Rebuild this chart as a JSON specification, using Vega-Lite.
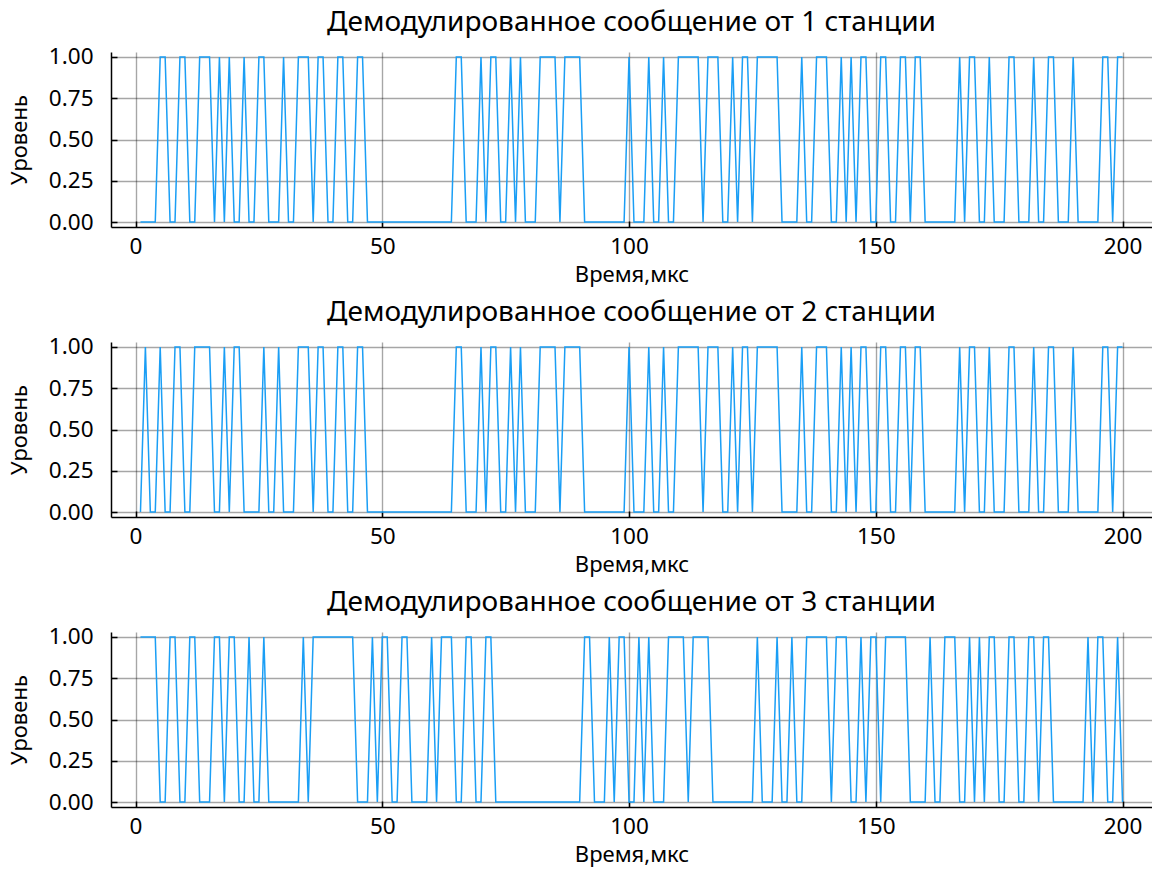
{
  "$schema": "https://vega.github.io/schema/vega-lite/v6.json",
  "background": "white",
  "padding": {"left": 8, "top": 8, "right": 0, "bottom": 12},
  "data": {"values": [
    {"t":1,"a":0,"b":0,"c":1},{"t":2,"a":0,"b":1,"c":1},{"t":3,"a":0,"b":0,"c":1},{"t":4,"a":0,"b":0,"c":1},{"t":5,"a":1,"b":1,"c":0},
    {"t":6,"a":1,"b":0,"c":0},{"t":7,"a":0,"b":0,"c":1},{"t":8,"a":0,"b":1,"c":1},{"t":9,"a":1,"b":1,"c":0},{"t":10,"a":1,"b":0,"c":0},
    {"t":11,"a":0,"b":0,"c":1},{"t":12,"a":0,"b":1,"c":1},{"t":13,"a":1,"b":1,"c":0},{"t":14,"a":1,"b":1,"c":0},{"t":15,"a":1,"b":1,"c":0},
    {"t":16,"a":0,"b":0,"c":1},{"t":17,"a":1,"b":0,"c":1},{"t":18,"a":0,"b":1,"c":0},{"t":19,"a":1,"b":0,"c":1},{"t":20,"a":0,"b":1,"c":1},
    {"t":21,"a":0,"b":1,"c":0},{"t":22,"a":1,"b":0,"c":0},{"t":23,"a":0,"b":0,"c":1},{"t":24,"a":0,"b":0,"c":0},{"t":25,"a":1,"b":0,"c":0},
    {"t":26,"a":1,"b":1,"c":1},{"t":27,"a":0,"b":0,"c":0},{"t":28,"a":0,"b":0,"c":0},{"t":29,"a":0,"b":1,"c":0},{"t":30,"a":1,"b":0,"c":0},
    {"t":31,"a":0,"b":0,"c":0},{"t":32,"a":0,"b":0,"c":0},{"t":33,"a":1,"b":1,"c":0},{"t":34,"a":1,"b":1,"c":1},{"t":35,"a":1,"b":1,"c":0},
    {"t":36,"a":0,"b":0,"c":1},{"t":37,"a":1,"b":1,"c":1},{"t":38,"a":1,"b":1,"c":1},{"t":39,"a":0,"b":0,"c":1},{"t":40,"a":0,"b":0,"c":1},
    {"t":41,"a":1,"b":1,"c":1},{"t":42,"a":1,"b":1,"c":1},{"t":43,"a":0,"b":0,"c":1},{"t":44,"a":0,"b":0,"c":1},{"t":45,"a":1,"b":1,"c":0},
    {"t":46,"a":1,"b":1,"c":0},{"t":47,"a":0,"b":0,"c":0},{"t":48,"a":0,"b":0,"c":1},{"t":49,"a":0,"b":0,"c":0},{"t":50,"a":0,"b":0,"c":1},
    {"t":51,"a":0,"b":0,"c":1},{"t":52,"a":0,"b":0,"c":0},{"t":53,"a":0,"b":0,"c":0},{"t":54,"a":0,"b":0,"c":1},{"t":55,"a":0,"b":0,"c":1},
    {"t":56,"a":0,"b":0,"c":0},{"t":57,"a":0,"b":0,"c":0},{"t":58,"a":0,"b":0,"c":0},{"t":59,"a":0,"b":0,"c":0},{"t":60,"a":0,"b":0,"c":1},
    {"t":61,"a":0,"b":0,"c":0},{"t":62,"a":0,"b":0,"c":1},{"t":63,"a":0,"b":0,"c":1},{"t":64,"a":0,"b":0,"c":1},{"t":65,"a":1,"b":1,"c":0},
    {"t":66,"a":1,"b":1,"c":0},{"t":67,"a":0,"b":0,"c":1},{"t":68,"a":0,"b":0,"c":1},{"t":69,"a":0,"b":0,"c":0},{"t":70,"a":1,"b":1,"c":0},
    {"t":71,"a":0,"b":0,"c":1},{"t":72,"a":1,"b":1,"c":1},{"t":73,"a":1,"b":1,"c":0},{"t":74,"a":0,"b":0,"c":0},{"t":75,"a":0,"b":0,"c":0},
    {"t":76,"a":1,"b":1,"c":0},{"t":77,"a":0,"b":0,"c":0},{"t":78,"a":1,"b":1,"c":0},{"t":79,"a":0,"b":0,"c":0},{"t":80,"a":0,"b":0,"c":0},
    {"t":81,"a":0,"b":0,"c":0},{"t":82,"a":1,"b":1,"c":0},{"t":83,"a":1,"b":1,"c":0},{"t":84,"a":1,"b":1,"c":0},{"t":85,"a":1,"b":1,"c":0},
    {"t":86,"a":0,"b":0,"c":0},{"t":87,"a":1,"b":1,"c":0},{"t":88,"a":1,"b":1,"c":0},{"t":89,"a":1,"b":1,"c":0},{"t":90,"a":1,"b":1,"c":0},
    {"t":91,"a":0,"b":0,"c":1},{"t":92,"a":0,"b":0,"c":1},{"t":93,"a":0,"b":0,"c":0},{"t":94,"a":0,"b":0,"c":0},{"t":95,"a":0,"b":0,"c":0},
    {"t":96,"a":0,"b":0,"c":1},{"t":97,"a":0,"b":0,"c":0},{"t":98,"a":0,"b":0,"c":1},{"t":99,"a":0,"b":0,"c":1},{"t":100,"a":1,"b":1,"c":0},
    {"t":101,"a":0,"b":0,"c":0},{"t":102,"a":0,"b":0,"c":1},{"t":103,"a":0,"b":0,"c":0},{"t":104,"a":1,"b":1,"c":1},{"t":105,"a":0,"b":0,"c":0},
    {"t":106,"a":0,"b":0,"c":0},{"t":107,"a":1,"b":1,"c":0},{"t":108,"a":0,"b":0,"c":1},{"t":109,"a":0,"b":0,"c":1},{"t":110,"a":1,"b":1,"c":1},
    {"t":111,"a":1,"b":1,"c":1},{"t":112,"a":1,"b":1,"c":0},{"t":113,"a":1,"b":1,"c":1},{"t":114,"a":1,"b":1,"c":1},{"t":115,"a":0,"b":0,"c":1},
    {"t":116,"a":1,"b":1,"c":1},{"t":117,"a":1,"b":1,"c":0},{"t":118,"a":1,"b":1,"c":0},{"t":119,"a":0,"b":0,"c":0},{"t":120,"a":0,"b":0,"c":0},
    {"t":121,"a":1,"b":1,"c":0},{"t":122,"a":0,"b":0,"c":0},{"t":123,"a":1,"b":1,"c":0},{"t":124,"a":1,"b":1,"c":0},{"t":125,"a":0,"b":0,"c":0},
    {"t":126,"a":1,"b":1,"c":1},{"t":127,"a":1,"b":1,"c":0},{"t":128,"a":1,"b":1,"c":0},{"t":129,"a":1,"b":1,"c":0},{"t":130,"a":1,"b":1,"c":1},
    {"t":131,"a":0,"b":0,"c":0},{"t":132,"a":0,"b":0,"c":0},{"t":133,"a":0,"b":0,"c":1},{"t":134,"a":0,"b":0,"c":0},{"t":135,"a":1,"b":1,"c":0},
    {"t":136,"a":0,"b":0,"c":1},{"t":137,"a":0,"b":0,"c":1},{"t":138,"a":1,"b":1,"c":1},{"t":139,"a":1,"b":1,"c":1},{"t":140,"a":1,"b":1,"c":1},
    {"t":141,"a":0,"b":0,"c":0},{"t":142,"a":0,"b":0,"c":1},{"t":143,"a":1,"b":1,"c":1},{"t":144,"a":0,"b":0,"c":1},{"t":145,"a":1,"b":1,"c":0},
    {"t":146,"a":0,"b":0,"c":0},{"t":147,"a":1,"b":1,"c":1},{"t":148,"a":1,"b":1,"c":0},{"t":149,"a":0,"b":0,"c":1},{"t":150,"a":0,"b":0,"c":1},
    {"t":151,"a":1,"b":1,"c":0},{"t":152,"a":1,"b":1,"c":1},{"t":153,"a":0,"b":0,"c":1},{"t":154,"a":0,"b":0,"c":1},{"t":155,"a":1,"b":1,"c":1},
    {"t":156,"a":1,"b":1,"c":1},{"t":157,"a":0,"b":0,"c":0},{"t":158,"a":1,"b":1,"c":0},{"t":159,"a":1,"b":1,"c":0},{"t":160,"a":0,"b":0,"c":0},
    {"t":161,"a":0,"b":0,"c":1},{"t":162,"a":0,"b":0,"c":0},{"t":163,"a":0,"b":0,"c":0},{"t":164,"a":0,"b":0,"c":1},{"t":165,"a":0,"b":0,"c":1},
    {"t":166,"a":0,"b":0,"c":1},{"t":167,"a":1,"b":1,"c":0},{"t":168,"a":0,"b":0,"c":0},{"t":169,"a":1,"b":1,"c":1},{"t":170,"a":1,"b":1,"c":0},
    {"t":171,"a":0,"b":0,"c":1},{"t":172,"a":0,"b":0,"c":0},{"t":173,"a":1,"b":1,"c":1},{"t":174,"a":0,"b":0,"c":1},{"t":175,"a":0,"b":0,"c":0},
    {"t":176,"a":0,"b":0,"c":0},{"t":177,"a":1,"b":1,"c":1},{"t":178,"a":1,"b":1,"c":1},{"t":179,"a":0,"b":0,"c":0},{"t":180,"a":0,"b":0,"c":0},
    {"t":181,"a":0,"b":0,"c":1},{"t":182,"a":1,"b":1,"c":1},{"t":183,"a":0,"b":0,"c":0},{"t":184,"a":0,"b":0,"c":1},{"t":185,"a":1,"b":1,"c":1},
    {"t":186,"a":1,"b":1,"c":0},{"t":187,"a":0,"b":0,"c":0},{"t":188,"a":0,"b":0,"c":0},{"t":189,"a":0,"b":0,"c":0},{"t":190,"a":1,"b":1,"c":0},
    {"t":191,"a":0,"b":0,"c":0},{"t":192,"a":0,"b":0,"c":0},{"t":193,"a":0,"b":0,"c":1},{"t":194,"a":0,"b":0,"c":0},{"t":195,"a":0,"b":0,"c":1},
    {"t":196,"a":1,"b":1,"c":1},{"t":197,"a":1,"b":1,"c":0},{"t":198,"a":0,"b":0,"c":0},{"t":199,"a":1,"b":1,"c":1},{"t":200,"a":1,"b":1,"c":0}
  ]},
  "spacing": 115,
  "bounds": "flush",
  "vconcat": [
    {
      "width": 1041, "height": 175,
      "title": {"text": "Демодулированное сообщение от 1 станции"},
      "mark": {"type": "line", "color": "#1a9ef5", "strokeWidth": 1.5},
      "encoding": {
        "x": {"field": "t", "type": "quantitative", "scale": {"domain": [-4.97, 205.97], "nice": false, "zero": false}, "axis": {"values": [0, 50, 100, 150, 200], "format": "d", "title": "Время,мкс"}},
        "y": {"field": "a", "type": "quantitative", "scale": {"domain": [-0.03, 1.03], "nice": false}, "axis": {"values": [0, 0.25, 0.5, 0.75, 1], "format": ".2f", "title": "Уровень"}}
      }
    },
    {
      "width": 1041, "height": 175,
      "title": {"text": "Демодулированное сообщение от 2 станции"},
      "mark": {"type": "line", "color": "#1a9ef5", "strokeWidth": 1.5},
      "encoding": {
        "x": {"field": "t", "type": "quantitative", "scale": {"domain": [-4.97, 205.97], "nice": false, "zero": false}, "axis": {"values": [0, 50, 100, 150, 200], "format": "d", "title": "Время,мкс"}},
        "y": {"field": "b", "type": "quantitative", "scale": {"domain": [-0.03, 1.03], "nice": false}, "axis": {"values": [0, 0.25, 0.5, 0.75, 1], "format": ".2f", "title": "Уровень"}}
      }
    },
    {
      "width": 1041, "height": 175,
      "title": {"text": "Демодулированное сообщение от 3 станции"},
      "mark": {"type": "line", "color": "#1a9ef5", "strokeWidth": 1.5},
      "encoding": {
        "x": {"field": "t", "type": "quantitative", "scale": {"domain": [-4.97, 205.97], "nice": false, "zero": false}, "axis": {"values": [0, 50, 100, 150, 200], "format": "d", "title": "Время,мкс"}},
        "y": {"field": "c", "type": "quantitative", "scale": {"domain": [-0.03, 1.03], "nice": false}, "axis": {"values": [0, 0.25, 0.5, 0.75, 1], "format": ".2f", "title": "Уровень"}}
      }
    }
  ],
  "config": {
    "font": "Noto Sans",
    "view": {"stroke": null},
    "axis": {
      "domainColor": "#000", "domainWidth": 1.5,
      "tickColor": "#000", "tickWidth": 1.5, "tickSize": -6,
      "gridColor": "#000", "gridOpacity": 0.35, "gridWidth": 1.4,
      "labelFont": "Noto Sans", "labelFontSize": 22.5, "labelColor": "#000",
      "titleFont": "Noto Sans", "titleFontSize": 22, "titleFontWeight": "normal", "titleColor": "#000"
    },
    "axisX": {"labelPadding": 14, "titlePadding": 7},
    "axisY": {"labelPadding": 24, "titlePadding": 17},
    "title": {"font": "Noto Sans", "fontSize": 28, "fontWeight": "normal", "color": "#000", "offset": 9, "anchor": "middle", "frame": "group"}
  }
}
